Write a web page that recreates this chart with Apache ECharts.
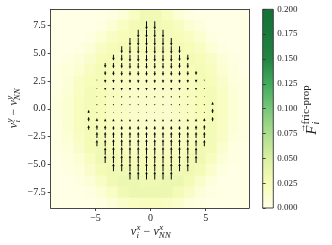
<!DOCTYPE html>
<html><head><meta charset="utf-8">
<script src="https://cdn.jsdelivr.net/npm/echarts@6/dist/echarts.min.js"></script>
<style>html,body{margin:0;padding:0;background:#fff}#c{width:332px;height:245px}</style>
</head><body><div id="c"></div>
<script>
// ---- data ----
const xTicks = [-5, 0, 5];
const yTicks = [-7.5, -5, -2.5, 0, 2.5, 5, 7.5];
const cbTicks = [0, 0.025, 0.05, 0.075, 0.1, 0.125, 0.15, 0.175, 0.2];
// background 2D histogram, cell centres (1-unit cells), values in 1e-3
const histX = [-8.5,-7.5,-6.5,-5.5,-4.5,-3.5,-2.5,-1.5,-0.5,0.5,1.5,2.5,3.5,4.5,5.5,6.5,7.5,8.5];
const histY = [8.5,7.5,6.5,5.5,4.5,3.5,2.5,1.5,0.5,-0.5,-1.5,-2.5,-3.5,-4.5,-5.5,-6.5,-7.5,-8.5];
const histMilli = [
 [0,0,0,0,0,3,8,20,30,30,22,10,3,0,0,0,0,0],
 [0,0,0,0,3,10,20,28,30,30,28,22,12,5,0,0,0,0],
 [0,0,0,3,10,18,25,28,28,28,28,25,20,12,4,0,0,0],
 [0,0,3,8,18,25,28,25,25,25,25,28,25,20,10,3,0,0],
 [0,3,8,15,25,28,25,22,22,22,22,25,28,25,18,8,2,0],
 [2,6,12,22,28,25,22,20,20,20,20,22,25,28,22,12,5,0],
 [3,8,18,25,28,22,20,18,18,18,18,20,22,28,25,15,6,2],
 [4,10,20,28,25,22,18,16,16,16,16,18,22,25,28,18,8,2],
 [5,12,22,28,25,20,18,15,15,15,15,18,20,25,28,20,10,3],
 [5,12,22,28,25,20,18,15,15,15,15,18,20,25,28,20,10,3],
 [4,12,22,28,25,22,18,16,16,16,16,18,22,25,28,20,8,2],
 [3,10,20,28,28,22,20,18,18,18,18,20,22,28,28,18,6,2],
 [2,6,15,28,30,25,22,20,20,20,20,22,25,30,28,14,4,0],
 [0,4,10,22,32,30,25,24,24,24,24,25,30,32,22,8,2,0],
 [0,2,6,15,28,32,30,28,28,28,28,30,32,28,14,4,0,0],
 [0,0,3,8,18,30,34,34,32,32,34,34,28,16,6,0,0,0],
 [0,0,0,3,10,20,30,34,34,34,34,28,18,8,2,0,0,0],
 [0,0,0,0,3,8,15,20,22,22,20,14,6,2,0,0,0,0]
];
// quiver: grid rows, columns, first row index of each column, and dy of each arrow
const rowY = [7.875,7.125,6.375,5.625,4.875,4.125,3.375,2.625,1.875,1.125,0.375,-0.375,-1.125,-1.875,-2.625,-3.375,-4.125,-4.875,-5.625,-6.375];
const colX = [-5.625,-4.875,-4.125,-3.375,-2.625,-1.875,-1.125,-0.375,0.375,1.125,1.875,2.625,3.375,4.125,4.875,5.625];
const colStart = [11,7,5,4,3,2,1,0,0,1,2,3,4,6,7,10];
const colDy = [
 [0.3,0.4,0.42],
 [-0.1,-0.1,-0.08,-0.05,0.1,0.3,0.45,0.55,0.6],
 [-0.45,-0.38,-0.3,-0.2,-0.12,-0.06,0.1,0.25,0.4,0.55,0.62,0.66,0.7],
 [-0.55,-0.5,-0.4,-0.3,-0.2,-0.12,-0.05,0.08,0.22,0.36,0.55,0.65,0.7,0.72,0.72],
 [-0.65,-0.6,-0.5,-0.42,-0.32,-0.22,-0.14,-0.06,0.08,0.2,0.35,0.55,0.65,0.7,0.72,0.74],
 [-0.72,-0.7,-0.65,-0.55,-0.42,-0.32,-0.22,-0.14,-0.06,0.08,0.2,0.35,0.55,0.65,0.7,0.72,0.75,0.75],
 [-0.75,-0.72,-0.7,-0.65,-0.55,-0.42,-0.32,-0.22,-0.14,-0.06,0.08,0.2,0.35,0.55,0.65,0.7,0.72,0.75,0.75],
 [-0.75,-0.75,-0.72,-0.7,-0.65,-0.55,-0.42,-0.32,-0.22,-0.14,-0.06,0.08,0.2,0.35,0.55,0.65,0.7,0.72,0.75,0.75],
 [-0.75,-0.75,-0.72,-0.7,-0.65,-0.55,-0.42,-0.32,-0.22,-0.14,-0.06,0.08,0.2,0.35,0.55,0.65,0.7,0.72,0.75,0.75],
 [-0.75,-0.72,-0.7,-0.65,-0.55,-0.42,-0.32,-0.22,-0.14,-0.06,0.08,0.2,0.35,0.55,0.65,0.7,0.72,0.75,0.75],
 [-0.72,-0.7,-0.65,-0.55,-0.42,-0.32,-0.22,-0.14,-0.06,0.08,0.2,0.35,0.55,0.65,0.7,0.72,0.75,0.75],
 [-0.65,-0.6,-0.5,-0.42,-0.32,-0.22,-0.14,-0.06,0.08,0.2,0.35,0.55,0.65,0.7,0.72,0.74],
 [-0.55,-0.5,-0.4,-0.3,-0.2,-0.12,-0.05,0.08,0.22,0.36,0.55,0.65,0.7,0.72,0.72],
 [-0.35,-0.28,-0.2,-0.12,-0.06,0.1,0.25,0.4,0.55,0.62,0.66,0.7],
 [-0.12,-0.12,-0.08,-0.05,0.1,0.3,0.45,0.55,0.6],
 [0.25,0.4,0.42]
];
const ylgn = ['#ffffe5','#f7fcb9','#d9f0a3','#addd8e','#78c679','#41ab5d','#238443','#187a3c','#137236'];

// ---- build series data ----
const heatData = [];
histY.forEach((y, i) => histX.forEach((x, j) => heatData.push([x, y, histMilli[i][j] / 1000])));
const arrowData = [];
colX.forEach((x, c) => colDy[c].forEach((dy, k) => arrowData.push([x, rowY[colStart[c] + k], dy])));

const FONT = '"Liberation Serif", "DejaVu Serif", serif';
const TXT = '#222';
const ctx = document.createElement('canvas').getContext('2d');
function tw(t, f) { ctx.font = f; return ctx.measureText(t).width; }
function mathGroup(tokens, cx, cy, rot, supDy, subDy) {
  let w = 0;
  tokens.forEach(k => { if (k.gap) w += k.gap; else if (k.t) w += tw(k.t, k.f); else w += Math.max(tw(k.sup || '', k.f), tw(k.sub || '', k.f2 || k.f)); });
  const children = [];
  let x = 0;
  const st = (text, font, xx, yy) => ({type: 'text', x: xx, y: yy, style: {text, font, fill: TXT, align: 'left', verticalAlign: 'middle', textAlign: 'left', textVerticalAlign: 'middle'}});
  tokens.forEach(k => {
    if (k.gap) { x += k.gap; return; }
    if (k.t) { children.push(st(k.t, k.f, x, k.dy || 0)); if (k.over) children.push(st(k.over, k.overF, x + (k.overDx || 0), k.overDy)); x += tw(k.t, k.f); return; }
    if (k.sup) children.push(st(k.sup, k.f, x, supDy));
    if (k.sub) children.push(st(k.sub, k.f2 || k.f, x + (k.subDx || 0), subDy));
    x += Math.max(tw(k.sup || '', k.f), tw(k.sub || '', k.f2 || k.f));
  });
  let gx, gy;
  if (rot) { gx = cx; gy = cy + w / 2; } else { gx = cx - w / 2; gy = cy; }
  return {type: 'group', x: gx, y: gy, rotation: rot ? Math.PI / 2 : 0, children, z: 100};
}
const mI = 'italic 12px ' + FONT, mR = '12px ' + FONT, sI = 'italic 9px ' + FONT;
function velLabel(c, cx, cy, rot) {
  return mathGroup([
    {t: 'v', f: mI}, {gap: 0.6}, {sup: c, sub: 'i', f: sI},
    {gap: 3}, {t: '\u2212', f: mR}, {gap: 3},
    {t: 'v', f: mI}, {gap: 0.6}, {sup: c, sub: 'NN', f: sI, subDx: -0.5}
  ], cx, cy, rot, -4.5, 3.5);
}
const cbLabel = mathGroup([
  {t: 'F', f: 'italic 15px ' + FONT, over: '\u2192', overF: '9px ' + FONT, overDx: 2, overDy: -9.5},
  {gap: 1}, {sup: 'fric-prop', sub: 'i', f: '11px ' + FONT, f2: 'italic 10px ' + FONT}
], 312, 110, true, -6, 4.5);

const chart = echarts.init(document.getElementById('c'), null, {renderer: 'canvas'});
const axisLineStyle = {color: '#333', width: 0.9};
const fmt1 = v => v.toFixed(1).replace('-', '\u2212');
chart.setOption({
  animation: false,
  backgroundColor: '#fff',
  grid: [
    {left: 50.7, top: 9.3, width: 198.3, height: 198.7, show: true, backgroundColor: '#ffffe5', borderWidth: 0},
    {left: 262.7, top: 9.3, width: 10.6, height: 198.7}
  ],
  visualMap: [{type: 'continuous', show: false, seriesIndex: 0, dimension: 2, min: 0, max: 0.2, inRange: {color: ylgn}}],
  xAxis: [
    {type: 'value', gridIndex: 0, min: -9.07, max: 8.93, position: 'bottom', z: 10,
      axisLine: {show: true, onZero: false, lineStyle: axisLineStyle},
      axisTick: {show: true, inside: false, length: 3, lineStyle: axisLineStyle, customValues: xTicks},
      axisLabel: {show: true, margin: 5, color: TXT, fontFamily: FONT, fontSize: 10, customValues: xTicks, formatter: v => String(v).replace('-', '\u2212')},
      splitLine: {show: false}},
    {type: 'value', gridIndex: 0, min: -9.07, max: 8.93, position: 'top', z: 10,
      axisLine: {show: true, onZero: false, lineStyle: axisLineStyle}, axisTick: {show: false}, axisLabel: {show: false}, splitLine: {show: false}},
    {type: 'value', gridIndex: 1, min: 0, max: 1, show: false}
  ],
  yAxis: [
    {type: 'value', gridIndex: 0, min: -8.93, max: 8.96, position: 'left', z: 10,
      axisLine: {show: true, onZero: false, lineStyle: axisLineStyle},
      axisTick: {show: true, inside: false, length: 3, lineStyle: axisLineStyle, customValues: yTicks},
      axisLabel: {show: true, margin: 5, color: TXT, fontFamily: FONT, fontSize: 10, customValues: yTicks, formatter: fmt1},
      splitLine: {show: false}},
    {type: 'value', gridIndex: 0, min: -8.93, max: 8.96, position: 'right', z: 10,
      axisLine: {show: true, onZero: false, lineStyle: axisLineStyle}, axisTick: {show: false}, axisLabel: {show: false}, splitLine: {show: false}},
    {type: 'value', gridIndex: 1, min: 0, max: 0.2, interval: 0.025, position: 'right', z: 10,
      axisLine: {show: false},
      axisTick: {show: true, inside: false, length: 3, lineStyle: axisLineStyle},
      axisLabel: {show: true, margin: 4, color: TXT, fontFamily: FONT, fontSize: 9, formatter: v => v.toFixed(3)},
      splitLine: {show: false}}
  ],
  series: [
    {type: 'custom', xAxisIndex: 0, yAxisIndex: 0, z: 1, clip: true, silent: true,
      encode: {x: 0, y: 1}, data: heatData,
      renderItem: (params, api) => {
        const x = api.value(0), y = api.value(1);
        const p0 = api.coord([x - 0.5, y + 0.5]), p1 = api.coord([x + 0.5, y - 0.5]);
        return {type: 'rect', shape: {x: p0[0], y: p0[1], width: p1[0] - p0[0] + 0.5, height: p1[1] - p0[1] + 0.5}, style: {fill: api.visual('color')}};
      }},
    {type: 'custom', xAxisIndex: 0, yAxisIndex: 0, z: 3, clip: true, silent: true,
      encode: {x: 0, y: 1}, data: arrowData,
      renderItem: (params, api) => {
        const x = api.value(0), y = api.value(1), dy = api.value(2);
        const p0 = api.coord([x, y]), p1 = api.coord([x, y + dy]);
        const L = Math.abs(p1[1] - p0[1]);
        const d = p1[1] > p0[1] ? 1 : -1;
        const w = 1.0, hw = 1.3, hl = 3.0, ha = 2.7;
        const P = (a, b) => [p0[0] + b, p0[1] + d * a];
        let pts;
        if (L >= ha) {
          pts = [P(0, -w/2), P(L - ha, -w/2), P(L - hl, -hw), P(L, 0), P(L - hl, hw), P(L - ha, w/2), P(0, w/2)];
        } else if (L >= 0.8) {
          const s = L / ha;
          pts = [P(0, -w/2), P(0, -hw * s), P(L, 0), P(0, hw * s), P(0, w/2)];
        } else {
          const r = 0.55;
          pts = [P(-r, 0), P(-r/2, r), P(r/2, r), P(r, 0), P(r/2, -r), P(-r/2, -r)];
        }
        return {type: 'polygon', shape: {points: pts}, style: {fill: '#0a0a0a'}};
      }},
    {type: 'custom', xAxisIndex: 2, yAxisIndex: 2, z: 3, silent: true,
      encode: {x: 0, y: 1}, data: [[0.5, 0.1]],
      renderItem: (params, api) => {
        const cs = params.coordSys;
        return {type: 'rect', shape: {x: cs.x, y: cs.y, width: cs.width, height: cs.height},
          style: {fill: new echarts.graphic.LinearGradient(0, 1, 0, 0, ylgn.map((c, i) => ({offset: i / (ylgn.length - 1), color: c}))), stroke: '#333', lineWidth: 0.9}};
      }}
  ],
  graphic: [
    velLabel('x', 151, 232, false),
    velLabel('y', 14, 108, true),
    cbLabel
  ]
});
</script></body></html>
